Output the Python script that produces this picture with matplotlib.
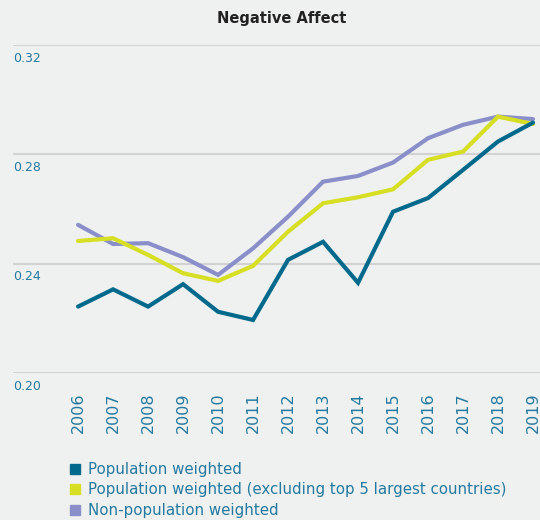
import matplotlib
matplotlib.use("Agg")
import matplotlib.pyplot as plt
from matplotlib.lines import Line2D

years = list(range(2006, 2020))
pop_weighted = [0.2243, 0.2306, 0.2243, 0.2325, 0.2224, 0.2194, 0.2414,
                0.2480, 0.2330, 0.2590, 0.2640, 0.2743, 0.2847, 0.2916]
pop_excl_top5 = [0.2483, 0.2493, 0.2432, 0.2365, 0.2337, 0.2392, 0.2517,
                 0.2621, 0.2643, 0.2672, 0.2780, 0.2810, 0.2938, 0.2911]
non_pop = [0.2542, 0.2472, 0.2475, 0.2424, 0.2359, 0.2456, 0.2572,
           0.2700, 0.2721, 0.2770, 0.2859, 0.2908, 0.2938, 0.2929]
yticks = [0.20, 0.24, 0.28, 0.32]
labels = ["Population weighted",
          "Population weighted (excluding top 5 largest countries)",
          "Non-population weighted"]

bg = "#eff1f0"
txt = "#2479a0"
colors = ["#00698c", "#d7df25", "#8a8fca"]

fig = plt.figure(figsize=(5.4, 5.2), dpi=100, facecolor=bg)
ax = fig.add_axes([13/540, 1 - 373/520, 1 - 13/540, (373 - 45)/520])
ax.set_facecolor(bg)

for yt in yticks:
    ax.axhline(yt, color="#d2d2d2", lw=1.5, zorder=0)
    ax.text(0.0, yt - 0.0048, f"{yt:.2f}", transform=ax.get_yaxis_transform(),
            color=txt, fontsize=9, ha="left", va="center")

series = [pop_weighted, pop_excl_top5, non_pop]
# purple at the back, teal on top
for vals, c, z in zip(series, colors, [4, 3, 2]):
    ax.plot(years, vals, color=c, lw=3, zorder=z, solid_capstyle="round",
            solid_joinstyle="miter")

ax.set_xlim(2004.14, 2019.2)
ax.set_ylim(0.20, 0.32)
ax.set_yticks([])
ax.set_xticks(years)
ax.set_xticklabels([str(y) for y in years], rotation=90, color=txt, fontsize=11.5)
ax.tick_params(axis="x", length=0, pad=14)
for s in ax.spines.values():
    s.set_visible(False)

fig.text(282/540, 1 - 18/520, "Negative Affect", ha="center", va="center",
         fontsize=10.5, fontweight="bold", color="#222222")

handles = [Line2D([], [], marker="s", linestyle="", color=c, markersize=7) for c in colors]
leg = fig.legend(handles, labels, loc="upper left", bbox_to_anchor=(60/540, 1 - 456/520),
                 frameon=False, fontsize=10.8, handletextpad=0.3, labelspacing=0.36,
                 handlelength=1.2, borderaxespad=0)
for t in leg.get_texts():
    t.set_color(txt)

fig.savefig("out.png", dpi=100, facecolor=bg)
